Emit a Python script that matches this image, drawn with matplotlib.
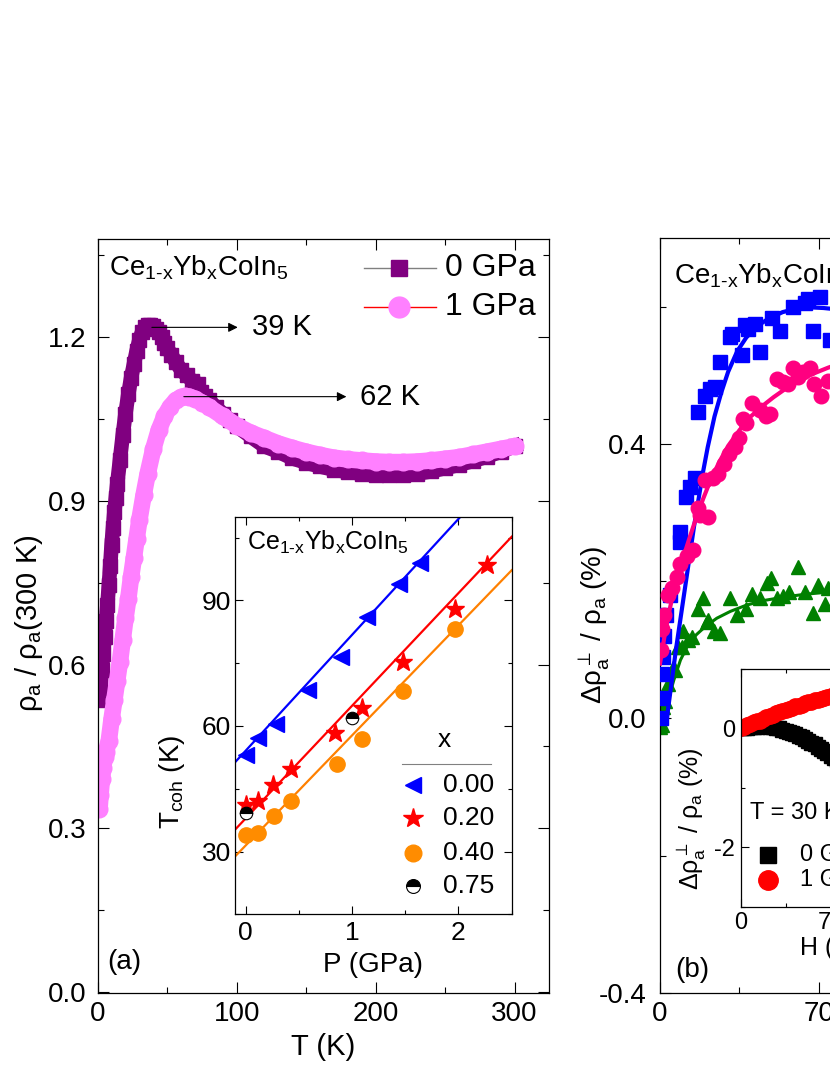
import numpy as np
import matplotlib
matplotlib.use('Agg')
import matplotlib.pyplot as plt
from matplotlib.ticker import MultipleLocator, FormatStrFormatter

plt.rcParams['font.family'] = ['Liberation Sans', 'DejaVu Sans']
plt.rcParams['mathtext.fontset'] = 'custom'
plt.rcParams['mathtext.rm'] = 'Liberation Sans'
plt.rcParams['mathtext.it'] = 'Liberation Sans'
plt.rcParams['mathtext.bf'] = 'Liberation Sans:bold'
plt.rcParams['axes.unicode_minus'] = False

# ---------------- painel (a): rho_a / rho_a(300 K) ----------------
T_0gpa = [1, 2, 3, 4, 5, 6, 7, 8, 9, 10, 11, 12, 13, 14, 16, 18, 20, 22, 24, 26, 28, 30, 32, 34,
          36, 38, 40, 42, 44, 46, 48, 50, 53, 56, 60, 64, 68, 72, 74, 77, 80, 85, 90, 95, 100,
          110, 120, 130, 140, 150, 160, 170, 180, 190, 200, 210, 220, 230, 240, 250, 260, 270,
          280, 290, 300]
r_0gpa = [0.535, 0.56, 0.59, 0.62, 0.65, 0.68, 0.71, 0.745, 0.78, 0.82, 0.85, 0.88, 0.905, 0.93,
          0.975, 1.02, 1.06, 1.095, 1.125, 1.15, 1.175, 1.195, 1.21, 1.218, 1.222, 1.222, 1.22,
          1.215, 1.21, 1.20, 1.19, 1.18, 1.168, 1.155, 1.14, 1.13, 1.12, 1.115, 1.10, 1.092,
          1.085, 1.072, 1.06, 1.048, 1.037, 1.018, 1.0, 0.99, 0.978, 0.97, 0.963, 0.957, 0.953,
          0.95, 0.948, 0.947, 0.948, 0.95, 0.954, 0.96, 0.966, 0.973, 0.981, 0.99, 1.0]

T_1gpa = [1.3, 2, 3, 4, 5, 6, 8, 10, 12, 14, 16, 18, 20, 22, 24, 26, 28, 30, 33, 36, 40, 44, 48,
          52, 56, 60, 63, 66, 70, 75, 80, 90, 100, 110, 120, 130, 140, 150, 160, 170, 180, 190,
          200, 210, 220, 230, 240, 250, 260, 270, 280, 290, 300]
r_1gpa = [0.335, 0.36, 0.39, 0.41, 0.43, 0.44, 0.46, 0.5, 0.535, 0.57, 0.605, 0.645, 0.685, 0.72,
          0.76, 0.795, 0.83, 0.865, 0.91, 0.95, 0.995, 1.03, 1.055, 1.072, 1.084, 1.09, 1.092,
          1.091, 1.087, 1.08, 1.072, 1.055, 1.038, 1.025, 1.015, 1.005, 0.997, 0.99, 0.984,
          0.979, 0.976, 0.974, 0.972, 0.971, 0.971, 0.972, 0.974, 0.977, 0.98, 0.985, 0.99,
          0.995, 1.0]

T_max = [39, 62]
r_max = [1.218, 1.091]

# inset (a): T_coh x P
P_x000 = [0, 0.12, 0.29, 0.59, 0.9, 1.14, 1.44, 1.64]
Tc_x000 = [53, 57, 60.5, 68.5, 76.5, 86, 94, 99]
P_x020 = [0, 0.12, 0.26, 0.43, 0.84, 1.09, 1.48, 1.97, 2.27]
Tc_x020 = [41, 42, 46, 49.6, 58.4, 64.4, 75.2, 88, 98.4]
P_x040 = [0, 0.12, 0.27, 0.43, 0.86, 1.09, 1.48, 1.97]
Tc_x040 = [34, 34.4, 38.4, 42, 50.8, 56.8, 68.4, 83.2]
P_x075 = [0, 1.0]
Tc_x075 = [39.3, 62]
# retas ajustadas (extremos)
P_fit = [-0.1, 2.5]
Tfit_x000 = [51.3, 123.3]
Tfit_x020 = [35.2, 105.2]
Tfit_x040 = [28.8, 97.2]
rotulos_x = ['0.00', '0.20', '0.40', '0.75']

# ---------------- painel (b): magnetorresistencia ----------------
H_azul = [0.4, 0.7, 1.0, 1.3, 1.8, 2.6, 4.4, 8.8, 8.8, 11.4, 13.2, 15.4, 16.9, 19.8, 22, 24.2,
          26.4, 30.8, 31.6, 36, 37.4, 38.9, 41.8, 44, 49.2, 52.8, 58.7, 63.8, 65.3, 67.5, 70.5, 74.9]
mr_azul = [0.0, 0.03, 0.065, 0.09, 0.12, 0.15, 0.18, 0.257, 0.271, 0.322, 0.337, 0.351, 0.446,
           0.47, 0.48, 0.483, 0.52, 0.556, 0.56, 0.529, 0.573, 0.568, 0.575, 0.534, 0.583, 0.565,
           0.599, 0.606, 0.611, 0.565, 0.614, 0.551]
H_fit_azul = [3, 5, 7, 9, 11, 13, 15, 17, 19, 21, 24, 27, 30, 34, 38, 43, 48, 54, 60, 66, 72, 78]
mr_fit_azul = [0, 0.05, 0.1, 0.145, 0.19, 0.235, 0.28, 0.32, 0.36, 0.395, 0.44, 0.475, 0.505,
               0.535, 0.555, 0.572, 0.583, 0.592, 0.597, 0.599, 0.598, 0.596]

H_rosa = [0.3, 0.8, 1.6, 3.5, 5.3, 7.5, 8.8, 11.7, 14.5, 16.7, 17.6, 19.8, 21.3, 23.3, 25.7, 28,
          30.5, 33, 35, 36.5, 38, 40.5, 44, 46.5, 48.5, 51.5, 54, 56.4, 58.5, 60.8, 63, 66, 68,
          71, 74]
mr_rosa = [0.10, 0.13, 0.15, 0.18, 0.19, 0.206, 0.225, 0.237, 0.245, 0.307, 0.296, 0.347, 0.293,
           0.351, 0.356, 0.37, 0.386, 0.395, 0.408, 0.437, 0.43, 0.459, 0.449, 0.441, 0.444,
           0.495, 0.49, 0.488, 0.51, 0.497, 0.505, 0.511, 0.488, 0.47, 0.492]
H_fit_rosa = [0, 2, 4, 6, 8, 10, 13, 16, 19, 22, 26, 30, 35, 40, 45, 50, 56, 62, 68, 74, 80]
mr_fit_rosa = [0.08, 0.12, 0.155, 0.185, 0.21, 0.232, 0.263, 0.293, 0.32, 0.345, 0.373, 0.397,
               0.42, 0.44, 0.455, 0.468, 0.482, 0.494, 0.503, 0.511, 0.518]

H_verde = [0, 0.8, 1.5, 2.2, 3.5, 5.7, 6.6, 8, 9.5, 10, 12.5, 14, 16.7, 19, 20.5, 21, 24, 26.4,
           30.8, 34, 38, 40.5, 44, 47, 49, 51.5, 54, 57, 60.8, 64, 67.4, 69.6, 72.7, 74]
mr_verde = [-0.013, -0.01, 0.016, 0.026, 0.05, 0.074, 0.07, 0.104, 0.104, 0.128, 0.114, 0.118,
            0.16, 0.175, 0.14, 0.143, 0.128, 0.125, 0.176, 0.15, 0.16, 0.182, 0.176, 0.197,
            0.205, 0.175, 0.179, 0.184, 0.22, 0.184, 0.154, 0.194, 0.167, 0.19]
H_fit_verde = [0.5, 3, 6, 9, 12, 16, 20, 25, 31, 38, 46, 55, 64, 74, 80]
mr_fit_verde = [-0.02, 0.02, 0.055, 0.085, 0.105, 0.122, 0.134, 0.146, 0.156, 0.165, 0.172,
                0.177, 0.181, 0.184, 0.185]

# inset (b): T = 30 K
H_30K = [0, 2.5, 5, 7.5, 10, 12.5, 15, 17.5, 20, 22.5, 25, 27.5, 30, 32.5, 35, 37.5, 40, 42.5,
         45, 47.5, 50, 52.5, 55, 57.5, 60, 62.5, 65, 67.5, 70, 72.5, 75]
mr_30K_0gpa = [0, 0.0, 0.01, 0.02, 0.03, 0.03, 0.04, 0.04, 0.04, 0.03, 0.03, 0.01, 0.0, -0.02,
               -0.04, -0.06, -0.08, -0.1, -0.13, -0.15, -0.18, -0.21, -0.24, -0.27, -0.31,
               -0.34, -0.38, -0.42, -0.46, -0.5, -0.54]
mr_30K_1gpa = [0, 0.02, 0.05, 0.08, 0.1, 0.12, 0.13, 0.16, 0.19, 0.21, 0.23, 0.26, 0.28, 0.3,
               0.31, 0.33, 0.35, 0.37, 0.38, 0.4, 0.42, 0.44, 0.45, 0.47, 0.48, 0.5, 0.51, 0.53,
               0.55, 0.56, 0.58]

formula = r'Ce$_{1\text{-}x}$Yb$_{x}$CoIn$_{5}$'
ylab_mr = r'$\Delta\rho_{a}^{\perp}$ / $\rho_{a}$ (%)'

roxo = '#800080'
rosa = '#FF80FF'
rosa_b = '#FF0080'


def estilo(ax, tam, maj=8, mino=4, padx=6, pady=8):
    ax.tick_params(which='both', direction='in', top=True, right=True, width=0.8,
                   labelsize=tam)
    ax.tick_params(which='major', length=maj)
    ax.tick_params(which='minor', length=mino)
    ax.tick_params(axis='x', pad=padx)
    ax.tick_params(axis='y', pad=pady)
    for s in ax.spines.values():
        s.set_linewidth(0.9)


fig = plt.figure(figsize=(8.3, 10.75), dpi=100)

# ---- painel (a)
ax = fig.add_axes([0.1177, 0.0763, 0.5441, 0.7014])
ax.plot(T_0gpa, r_0gpa, '-', color=roxo, lw=10.5, solid_joinstyle='round', zorder=2)
ax.plot(T_0gpa, r_0gpa, 's', color=roxo, ms=10.5, zorder=2)
ax.plot(T_1gpa, r_1gpa, '-', color=rosa, lw=12, solid_capstyle='round',
        solid_joinstyle='round', zorder=2.2)
ax.plot(T_1gpa, r_1gpa, 'o', color=rosa, ms=12, zorder=2.2)
ax.set_xlim(0, 325)
ax.set_ylim(-0.002, 1.38)
ax.xaxis.set_major_locator(MultipleLocator(100))
ax.xaxis.set_minor_locator(MultipleLocator(50))
ax.yaxis.set_major_locator(MultipleLocator(0.3))
ax.yaxis.set_minor_locator(MultipleLocator(0.15))
ax.yaxis.set_major_formatter(FormatStrFormatter('%.1f'))
estilo(ax, 20)
ax.set_xlabel('T (K)', fontsize=21, labelpad=4)
ax.set_ylabel(r'$\rho_{a}$ / $\rho_{a}$(300 K)', fontsize=21)
ax.yaxis.set_label_coords(-0.117, 0.49)

for tm, rm, xt in zip(T_max, r_max, [100.8, 179.0]):
    ax.annotate('', xy=(xt, rm), xytext=(tm, rm),
                arrowprops=dict(arrowstyle='-|>', color='black', lw=0.8,
                                mutation_scale=14, shrinkA=0, shrinkB=0), zorder=4)
    ax.text(xt + 10, rm, f'{tm} K', fontsize=21, va='center', ha='left', zorder=4)

ax.text(0.026, 0.952, formula, transform=ax.transAxes, fontsize=20, va='baseline')
ax.text(0.021, 0.041, '(a)', transform=ax.transAxes, fontsize=20, va='center')

# legenda manual
for yy, cor_l, cor_m, mk, tam, txt in [(0.9615, 'gray', roxo, 's', 12, '0 GPa'),
                                       (0.9098, 'red', rosa, 'o', 15, '1 GPa')]:
    ax.plot([0.589, 0.749], [yy, yy], '-', color=cor_l, lw=1.0, transform=ax.transAxes)
    ax.plot([0.668], [yy], mk, color=cor_m, ms=tam, transform=ax.transAxes)
    ax.text(0.769, yy, txt, transform=ax.transAxes, fontsize=23, va='center')

# ---- inset (a)
axi = fig.add_axes([0.2831, 0.1495, 0.3334, 0.3699])
axi.plot(P_fit, Tfit_x000, '-', color='blue', lw=1.6)
axi.plot(P_fit, Tfit_x020, '-', color='red', lw=1.6)
axi.plot(P_fit, Tfit_x040, '-', color='#FF8000', lw=1.6)
axi.plot(P_x000, Tc_x000, '<', color='blue', ms=11, ls='none')
axi.plot(P_x020, Tc_x020, '*', color='red', ms=14, ls='none')
axi.plot(P_x040, Tc_x040, 'o', color='#FF8C00', ms=11, ls='none')
axi.plot(P_x075, Tc_x075, 'o', ms=9, ls='none', fillstyle='top', markerfacecolor='black',
         markerfacecoloralt='white', markeredgecolor='black', markeredgewidth=0.8)
axi.set_xlim(-0.1, 2.5)
axi.set_ylim(15, 110)
axi.xaxis.set_major_locator(MultipleLocator(1))
axi.xaxis.set_minor_locator(MultipleLocator(0.5))
axi.yaxis.set_major_locator(MultipleLocator(30))
axi.yaxis.set_minor_locator(MultipleLocator(15))
estilo(axi, 19, maj=6, mino=3, padx=5, pady=3)
axi.set_xlabel('P (GPa)', fontsize=20, labelpad=5)
axi.set_ylabel(r'T$_{coh}$ (K)', fontsize=20)
axi.yaxis.set_label_coords(-0.173, 0.333)
axi.text(0.042, 0.916, formula, transform=axi.transAxes, fontsize=18, va='baseline')

axi.text(0.757, 0.439, 'x', transform=axi.transAxes, fontsize=19, ha='center', va='center')
axi.plot([0.602, 0.927], [0.379, 0.379], '-', color='gray', lw=0.8, transform=axi.transAxes)
leg_y = [0.325, 0.242, 0.154, 0.071]
leg_m = [dict(marker='<', color='blue', ms=12),
         dict(marker='*', color='red', ms=15),
         dict(marker='o', color='#FF8C00', ms=12),
         dict(marker='o', ms=10, fillstyle='top', markerfacecolor='black',
              markerfacecoloralt='white', markeredgecolor='black', markeredgewidth=0.8)]
for yy, kw, txt in zip(leg_y, leg_m, rotulos_x):
    axi.plot([0.643], [yy], ls='none', transform=axi.transAxes, clip_on=False, **kw)
    axi.text(0.751, yy, txt, transform=axi.transAxes, fontsize=19, va='center')

# ---- painel (b)
bx = fig.add_axes([0.7952, 0.0763, 0.547, 0.7023])
bx.plot(H_fit_verde, mr_fit_verde, '-', color='#008000', lw=2.2, zorder=2)
bx.plot(H_verde, mr_verde, '^', color='#008000', ms=10, ls='none', zorder=2)
bx.plot(H_azul, mr_azul, 's', color='blue', ms=9.5, ls='none', zorder=3)
bx.plot(H_fit_azul, mr_fit_azul, '-', color='blue', lw=3, zorder=3.5)
bx.plot(H_rosa, mr_rosa, 'o', color=rosa_b, ms=10.5, ls='none', zorder=4)
bx.plot(H_fit_rosa, mr_fit_rosa, '-', color=rosa_b, lw=3, zorder=4.5)
bx.set_xlim(0, 200)
bx.set_ylim(-0.4, 0.7)
bx.xaxis.set_major_locator(MultipleLocator(70))
bx.xaxis.set_minor_locator(MultipleLocator(35))
bx.yaxis.set_major_locator(MultipleLocator(0.4))
bx.yaxis.set_minor_locator(MultipleLocator(0.2))
bx.yaxis.set_major_formatter(FormatStrFormatter('%.1f'))
estilo(bx, 20, pady=10)
bx.set_xlabel('H (kOe)', fontsize=21, labelpad=4)
bx.set_ylabel(ylab_mr, fontsize=20)
bx.yaxis.set_label_coords(-0.106, 0.487)
bx.text(0.031, 0.94, formula, transform=bx.transAxes, fontsize=20, va='baseline')
bx.text(0.033, 0.030, '(b)', transform=bx.transAxes, fontsize=20, va='center')

# ---- inset (b)
bxi = fig.add_axes([0.8924, 0.1566, 0.2478, 0.2211])
bxi.plot(H_30K, mr_30K_0gpa, 's', color='black', ms=10, ls='none')
bxi.plot(H_30K, mr_30K_1gpa, 'o', color='red', ms=11, ls='none')
bxi.set_xlim(0, 160)
bxi.set_ylim(-3, 1)
bxi.xaxis.set_major_locator(MultipleLocator(70))
bxi.xaxis.set_minor_locator(MultipleLocator(35))
bxi.yaxis.set_major_locator(MultipleLocator(2))
bxi.yaxis.set_minor_locator(MultipleLocator(1))
estilo(bxi, 17, maj=6, mino=3, padx=4, pady=4)
bxi.set_xlabel('H (kOe)', fontsize=18, labelpad=1)
bxi.set_ylabel(ylab_mr, fontsize=18)
bxi.yaxis.set_label_coords(-0.16, 0.37)
bxi.text(0.045, 0.394, 'T = 30 K', transform=bxi.transAxes, fontsize=17, va='center')
for yy, kw, txt in [(0.218, dict(marker='s', color='black', ms=12), '0 GPa'),
                    (0.113, dict(marker='o', color='red', ms=14), '1 GPa')]:
    bxi.plot([0.133], [yy], ls='none', transform=bxi.transAxes, **kw)
    bxi.text(0.288, yy, txt, transform=bxi.transAxes, fontsize=17, va='center')

fig.savefig('out.png', dpi=100)
